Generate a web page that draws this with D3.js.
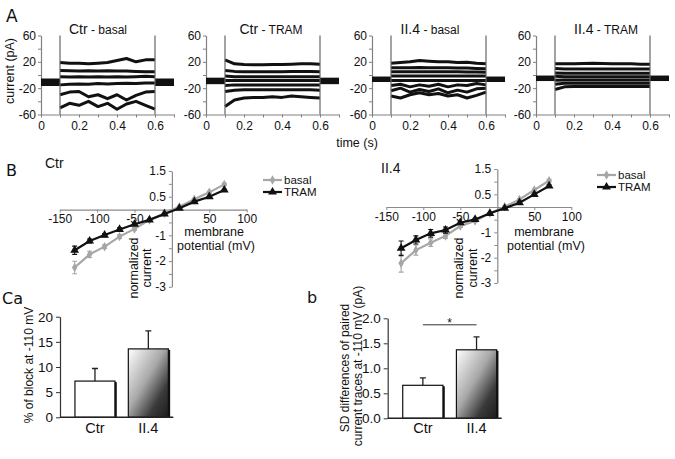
<!DOCTYPE html>
<html>
<head>
<meta charset="utf-8">
<script src="https://cdn.jsdelivr.net/npm/d3@7"></script>
<style>
  body { margin: 0; background: #fff; }
  text { font-family: "Liberation Sans", Arial, sans-serif; fill: #111; }
</style>
</head>
<body>
<svg id="fig" width="675" height="459"></svg>
<script>
// ---- panel A: current traces ----
const traceTitles = ['Ctr', 'Ctr', 'II.4', 'II.4'];
const traceSubs = [' - basal', ' - TRAM', ' - basal', ' - TRAM'];
const stepTimes = [0.1, 0.15, 0.2, 0.25, 0.3, 0.35, 0.4, 0.45, 0.5, 0.55, 0.6];
const holdLevels = [-11, -9, -6.5, -5];
const holdWidth = [7.5, 6.5, 5.5, 5.5];

const ctrBasalTraces = [
  [19, 18, 18, 17, 18, 19, 22, 25, 20, 23, 23],
  [7, 6.5, 6, 6.5, 6, 6.5, 6, 6, 5.5, 5, 5],
  [-2.5, -3, -2.5, -3, -2.5, -3, -2.5, -3, -2.5, -2, -2.5],
  [-15, -14, -13.5, -14, -13, -13.5, -13, -12.5, -13, -12, -12],
  [-30, -26, -25, -33, -30, -36, -30, -38, -31, -26, -25],
  [-50, -43, -46, -40, -48, -43, -52, -44, -40, -46, -52]
];
const ctrTramTraces = [
  [23, 17, 16, 15.5, 15.5, 16, 16, 16.5, 17, 17, 16.5],
  [7, 5.5, 5, 5, 5, 5, 5, 5.5, 5.5, 5.5, 5],
  [-1.5, -2.5, -2.5, -2.5, -2.5, -2.5, -2.5, -2.5, -2.5, -2.5, -2.5],
  [-8.5, -8.5, -8.5, -8.5, -8.5, -8.5, -8.5, -8.5, -8.5, -8.5, -8.5],
  [-16, -15, -15, -15, -15, -15, -15, -15, -15, -15, -15],
  [-25, -23, -22.5, -22.5, -22.5, -22.5, -22.5, -22.5, -22.5, -22.5, -23],
  [-48, -38, -35, -34, -34, -33, -34, -32, -33, -34, -35]
];
const ii4BasalTraces = [
  [18, 19, 20, 22, 21, 20, 20, 19, 19.5, 18, 17],
  [11, 11, 11, 11.5, 11, 11, 11, 10.5, 10.5, 10, 9.5],
  [5, 5, 5, 5, 5, 5, 5, 5, 4.5, 4.5, 4],
  [-1.5, -1.5, -1.5, -1.5, -1.5, -1.5, -1.5, -1.5, -1.5, -1.5, -1.5],
  [-8.5, -8.5, -8.5, -8.5, -8.5, -8.5, -8.5, -8.5, -8.5, -8.5, -8.5],
  [-16, -14, -18, -15, -17, -14, -18, -15, -16, -13, -15],
  [-24, -20, -26, -22, -25, -21, -27, -23, -26, -21, -20],
  [-32, -35, -30, -27, -30, -28, -32, -30, -35, -31, -26]
];
const ii4TramTraces = [
  [17, 17, 17, 17.5, 18, 17.5, 17, 17, 17, 16.5, 16.5],
  [10, 9, 9, 9, 9, 9, 9, 9, 9, 9, 9],
  [3, 2.5, 2.5, 2.5, 2.5, 2.5, 2.5, 2.5, 2.5, 2.5, 2.5],
  [-2, -2.5, -2.5, -2.5, -2.5, -2.5, -2.5, -2.5, -2.5, -2.5, -2.5],
  [-8, -7.5, -7.5, -7.5, -7.5, -7.5, -7.5, -7.5, -7.5, -7.5, -7.5],
  [-14, -12.5, -12.5, -12.5, -12.5, -12.5, -12.5, -12.5, -12.5, -12.5, -12.5],
  [-22, -18, -17.5, -17.5, -17.5, -17.5, -17.5, -17.5, -17.5, -17.5, -17.5]
];
const allTraces = [ctrBasalTraces, ctrTramTraces, ii4BasalTraces, ii4TramTraces];
const timeTicks = [0, 0.1, 0.2, 0.3, 0.4, 0.5, 0.6, 0.7];
const timeLabels = [0, 0.2, 0.4, 0.6];
const currentTicks = [-60, -40, -20, 0, 20, 40, 60];
const currentLabels = [-60, -20, 20, 60];

// ---- panel B: I-V curves ----
const ivVoltage = [-130, -110, -90, -70, -50, -30, -10, 10, 30, 50, 70];
const ctrBasalIV = [-2.25, -1.74, -1.44, -1.05, -0.75, -0.40, -0.14, 0.11, 0.40, 0.67, 0.98];
const ctrBasalErr = [0.24, 0.12, 0.07, 0.07, 0.05, 0.03, 0.02, 0.02, 0.03, 0.04, 0.05];
const ctrTramIV = [-1.58, -1.22, -0.99, -0.77, -0.57, -0.40, -0.17, 0.05, 0.31, 0.50, 0.76];
const ctrTramErr = [0.16, 0.08, 0.06, 0.06, 0.04, 0.03, 0.02, 0.02, 0.03, 0.03, 0.04];
const ii4BasalIV = [-2.22, -1.70, -1.41, -1.14, -0.75, -0.55, -0.25, 0.01, 0.30, 0.67, 1.04];
const ii4BasalErr = [0.35, 0.2, 0.15, 0.1, 0.06, 0.04, 0.03, 0.02, 0.03, 0.04, 0.05];
const ii4TramIV = [-1.63, -1.30, -1.04, -0.91, -0.62, -0.49, -0.25, -0.05, 0.17, 0.50, 0.83];
const ii4TramErr = [0.29, 0.16, 0.15, 0.12, 0.05, 0.04, 0.03, 0.02, 0.03, 0.04, 0.05];
const vTicks = [-150, -100, -50, 0, 50, 100];
const vLabels = [-150, -100, -50, 50, 100];
const iTicks = [-3, -2.5, -2, -1.5, -1, -0.5, 0, 0.5, 1, 1.5];
const iLabels = [-3, -2, -1, 0.5, 1.5];

// ---- panel C: bars ----
const groups = ['Ctr', 'II.4'];
const blockMean = [7.2, 13.6];
const blockErr = [2.5, 3.6];
const blockTicks = [0, 5, 10, 15, 20];
const sdMean = [0.66, 1.37];
const sdErr = [0.15, 0.26];
const sdTicks = [0, 0.5, 1, 1.5, 2];

const svg = d3.select('#fig');

const defs = svg.append('defs');
const grad = defs.append('linearGradient').attr('id', 'barGrad')
  .attr('x1', 0).attr('y1', 0).attr('x2', 1).attr('y2', 1);
grad.append('stop').attr('offset', '0%').attr('stop-color', '#ffffff');
grad.append('stop').attr('offset', '45%').attr('stop-color', '#a9a9a9');
grad.append('stop').attr('offset', '75%').attr('stop-color', '#3a3a3a');
grad.append('stop').attr('offset', '100%').attr('stop-color', '#1c1c1c');

function styleAxis(g, color, fontSize) {
  g.select('.domain').attr('stroke', color).attr('stroke-width', 1.2);
  g.selectAll('.tick line').attr('stroke', color);
  g.selectAll('.tick text').attr('font-size', fontSize)
    .attr('font-family', '"Liberation Sans", Arial, sans-serif').attr('fill', '#111');
}

// panel letters
svg.append('text').attr('x', 6).attr('y', 22).attr('font-size', 17)
  .style('font-family', '"DejaVu Sans", sans-serif').text('A');
svg.append('text').attr('x', 6).attr('y', 176).attr('font-size', 16)
  .style('font-family', '"DejaVu Sans", sans-serif').text('B');
svg.append('text').attr('x', 2).attr('y', 304).attr('font-size', 16)
  .style('font-family', '"DejaVu Sans", sans-serif').text('Ca');
svg.append('text').attr('x', 307).attr('y', 303).attr('font-size', 16)
  .style('font-family', '"DejaVu Sans", sans-serif').text('b');

// ---------------- A ----------------
const traceLeft = [41, 206, 372, 536];
const titleCenter = [98, 271, 430, 606];
const line = d3.line();

allTraces.forEach((traces, i) => {
  const x = d3.scaleLinear().domain([0, 0.7]).range([traceLeft[i], traceLeft[i] + 133]);
  const y = d3.scaleLinear().domain([-60, 60]).range([114.5, 35.5]);
  const g = svg.append('g');

  const ya = g.append('g').attr('transform', `translate(${x(0)},0)`)
    .call(d3.axisLeft(y).tickValues(currentTicks).tickSize(3).tickSizeOuter(0)
      .tickFormat(d => currentLabels.includes(d) ? d : ''));
  styleAxis(ya, '#808080', 12);
  ya.selectAll('.tick text').attr('x', -5);

  const xa = g.append('g').attr('transform', `translate(0,${y(-60)})`)
    .call(d3.axisBottom(x).tickValues(timeTicks).tickSize(3).tickSizeOuter(0)
      .tickFormat(d => timeLabels.includes(d) ? d : ''));
  styleAxis(xa, '#808080', 12);
  xa.selectAll('.tick text').attr('y', 7);

  // holding segments (many overlaid noisy sweeps)
  [[0, 0.1], [0.6, 0.7]].forEach(seg => {
    g.append('path')
      .attr('d', line(seg.map(t => [x(t), y(holdLevels[i])])))
      .attr('stroke', '#111').attr('stroke-width', holdWidth[i]).attr('fill', 'none');
  });

  traces.forEach(tr => {
    g.append('path')
      .attr('d', line(tr.map((v, k) => [x(stepTimes[k]), y(v)])))
      .attr('stroke', '#111').attr('stroke-width', 3)
      .attr('stroke-linejoin', 'round').attr('fill', 'none');
  });

  [0.1, 0.6].forEach(t => {
    g.append('line').attr('x1', x(t)).attr('x2', x(t))
      .attr('y1', y(60)).attr('y2', y(-60))
      .attr('stroke', '#666').attr('stroke-width', 1.2);
  });

  const title = g.append('text').attr('x', titleCenter[i]).attr('y', 34)
    .attr('text-anchor', 'middle');
  title.append('tspan').attr('font-size', 14).text(traceTitles[i]);
  title.append('tspan').attr('font-size', 12).text(traceSubs[i]);
});

svg.append('text').attr('transform', 'translate(14,71) rotate(-90)')
  .attr('text-anchor', 'middle').attr('font-size', 12.5).text('current (pA)');
svg.append('text').attr('x', 357).attr('y', 147)
  .attr('text-anchor', 'middle').attr('font-size', 12.5).text('time (s)');

// ---------------- B ----------------
const ivPanels = [
  { xr: [59.7, 246.7], yr: [286.8, 171], basal: ctrBasalIV, be: ctrBasalErr, tram: ctrTramIV, te: ctrTramErr,
    name: 'Ctr', nx: 45, ny: 168, lx: 263, ly: 180, mx: 214, nlx: 138, clx: 151 },
  { xr: [386.3, 571.3], yr: [283, 169], basal: ii4BasalIV, be: ii4BasalErr, tram: ii4TramIV, te: ii4TramErr,
    name: 'II.4', nx: 381, ny: 173, lx: 597, ly: 175, mx: 544, nlx: 463, clx: 476.5 }
];

ivPanels.forEach(p => {
  const x = d3.scaleLinear().domain([-150, 100]).range(p.xr);
  const y = d3.scaleLinear().domain([-3, 1.5]).range(p.yr);
  const g = svg.append('g');

  const ya = g.append('g').attr('transform', `translate(${x(0)},0)`)
    .call(d3.axisLeft(y).tickValues(iTicks).tickSize(3).tickSizeOuter(0)
      .tickFormat(d => iLabels.includes(d) ? d : ''));
  styleAxis(ya, '#8a8a8a', 12);
  ya.selectAll('.tick text').attr('x', -6);

  const xa = g.append('g').attr('transform', `translate(0,${y(0)})`)
    .call(d3.axisBottom(x).tickValues(vTicks).tickSize(3).tickSizeOuter(0)
      .tickFormat(d => vLabels.includes(d) ? d : ''));
  styleAxis(xa, '#8a8a8a', 12);
  xa.selectAll('.tick text').attr('y', 5);

  const series = [
    { v: p.basal, e: p.be, color: '#a6a6a6', sym: d3.symbolDiamond, size: 26 },
    { v: p.tram, e: p.te, color: '#111', sym: d3.symbolTriangle, size: 34 }
  ];
  series.forEach(s => {
    g.append('path')
      .attr('d', line(s.v.map((v, k) => [x(ivVoltage[k]), y(v)])))
      .attr('stroke', s.color).attr('stroke-width', 2.2).attr('fill', 'none');
    s.v.forEach((v, k) => {
      const cx = x(ivVoltage[k]);
      g.append('path')
        .attr('d', `M${cx},${y(v - s.e[k])}V${y(v + s.e[k])}M${cx - 2.5},${y(v - s.e[k])}h5M${cx - 2.5},${y(v + s.e[k])}h5`)
        .attr('stroke', s.color).attr('stroke-width', 1.1).attr('fill', 'none');
      g.append('path').attr('d', d3.symbol(s.sym, s.size)())
        .attr('transform', `translate(${cx},${y(v)})`).attr('fill', s.color);
    });
  });

  // legend
  series.forEach((s, k) => {
    const ly = p.ly + k * 12;
    g.append('line').attr('x1', p.lx).attr('x2', p.lx + 19).attr('y1', ly).attr('y2', ly)
      .attr('stroke', s.color).attr('stroke-width', 2.2);
    g.append('path').attr('d', d3.symbol(s.sym, s.size)())
      .attr('transform', `translate(${p.lx + 9.5},${ly})`).attr('fill', s.color);
    g.append('text').attr('x', p.lx + 21).attr('y', ly + 4).attr('font-size', 11.5)
      .text(k === 0 ? 'basal' : 'TRAM');
  });

  g.append('text').attr('x', p.nx).attr('y', p.ny).attr('font-size', 14).text(p.name);
  g.append('text').attr('x', p.mx).attr('y', 236).attr('text-anchor', 'middle')
    .attr('font-size', 12.5).text('membrane');
  g.append('text').attr('x', p.mx + 2).attr('y', 249.5).attr('text-anchor', 'middle')
    .attr('font-size', 12.5).text('potential (mV)');
  g.append('text').attr('transform', `translate(${p.nlx},268) rotate(-90)`)
    .attr('text-anchor', 'middle').attr('font-size', 12.5).text('normalized');
  g.append('text').attr('transform', `translate(${p.clx},268) rotate(-90)`)
    .attr('text-anchor', 'middle').attr('font-size', 12.5).text('current');
});

// ---------------- C ----------------
const barPanels = [
  { mean: blockMean, err: blockErr, ticks: blockTicks, dom: [0, 20], yr: [417.3, 316.7],
    xr: [60, 183.3], axisEnd: 173.3 },
  { mean: sdMean, err: sdErr, ticks: sdTicks, dom: [0, 2], yr: [418.3, 318.3],
    xr: [387.7, 511.7], axisEnd: 501.7 }
];

barPanels.forEach((p, pi) => {
  const x = d3.scaleBand().domain(groups).range(p.xr).paddingInner(0.25).paddingOuter(0.28);
  const y = d3.scaleLinear().domain(p.dom).range(p.yr);
  const g = svg.append('g');

  groups.forEach((c, k) => {
    // error bar (upper only)
    const cx = x(c) + x.bandwidth() / 2;
    g.append('path')
      .attr('d', `M${cx},${y(p.mean[k])}V${y(p.mean[k] + p.err[k])}M${cx - 3},${y(p.mean[k] + p.err[k])}h6`)
      .attr('stroke', '#222').attr('stroke-width', 1.3).attr('fill', 'none');
    g.append('rect').attr('x', x(c)).attr('y', y(p.mean[k]))
      .attr('width', x.bandwidth()).attr('height', y(0) - y(p.mean[k]))
      .attr('fill', k === 0 ? '#fff' : 'url(#barGrad)')
      .attr('stroke', '#111').attr('stroke-width', 1.2);
    g.append('line').attr('x1', x(c) + x.bandwidth() + 0.8).attr('x2', x(c) + x.bandwidth() + 0.8)
      .attr('y1', y(p.mean[k]) + 1).attr('y2', y(0))
      .attr('stroke', '#111').attr('stroke-width', 2);
    g.append('text').attr('x', cx).attr('y', 433).attr('text-anchor', 'middle')
      .attr('font-size', 14.5).text(c);
  });

  const ya = g.append('g').attr('transform', `translate(${p.xr[0]},0)`)
    .call(d3.axisLeft(y).tickValues(p.ticks).tickSize(4).tickSizeOuter(0));
  styleAxis(ya, '#333', 13.5);
  ya.selectAll('.tick text').attr('x', -7);

  g.append('line').attr('x1', p.xr[0]).attr('x2', p.axisEnd)
    .attr('y1', y(0)).attr('y2', y(0)).attr('stroke', '#222').attr('stroke-width', 1.6);

  if (pi === 1) {
    const x1 = x('Ctr') + x.bandwidth() / 2, x2 = x('II.4') + x.bandwidth() / 2;
    g.append('line').attr('x1', x1).attr('x2', x2).attr('y1', y(1.87)).attr('y2', y(1.87))
      .attr('stroke', '#333').attr('stroke-width', 1);
    g.append('text').attr('x', (x1 + x2) / 2).attr('y', y(1.87) + 2).attr('text-anchor', 'middle')
      .attr('font-size', 12).text('*');
  }
});

svg.append('text').attr('transform', 'translate(33,365) rotate(-90)')
  .attr('text-anchor', 'middle').attr('font-size', 12).text('% of block at -110 mV');
svg.append('text').attr('transform', 'translate(349,368) rotate(-90)')
  .attr('text-anchor', 'middle').attr('font-size', 12).text('SD differences of paired');
svg.append('text').attr('transform', 'translate(362,366) rotate(-90)')
  .attr('text-anchor', 'middle').attr('font-size', 12).text('current traces at -110 mV (pA)');
</script>
</body>
</html>
